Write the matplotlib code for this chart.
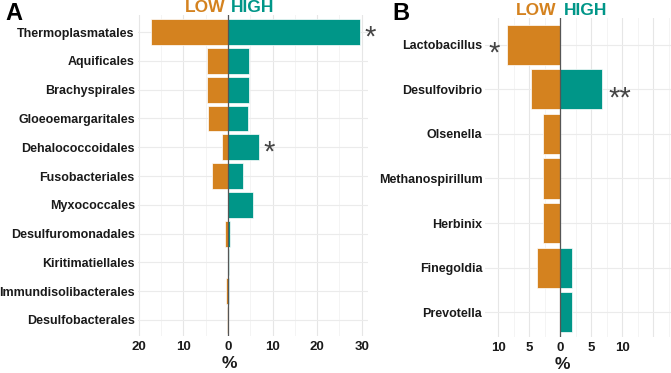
import matplotlib.pyplot as plt
import matplotlib.transforms as mtransforms
import numpy as np

plt.rcParams['font.family'] = ['Liberation Sans', 'DejaVu Sans']

# --- data ---
orders = ['Thermoplasmatales', 'Aquificales', 'Brachyspirales', 'Gloeoemargaritales',
          'Dehalococcoidales', 'Fusobacteriales', 'Myxococcales', 'Desulfuromonadales',
          'Kiritimatiellales', 'Immundisolibacterales', 'Desulfobacterales']
orders_low = [17.2, 4.8, 4.8, 4.5, 1.4, 3.5, 0.0, 0.7, 0.1, 0.4, 0.15]
orders_high = [29.6, 4.7, 4.7, 4.5, 7.0, 3.4, 5.7, 0.4, 0.3, 0.3, 0.05]
orders_sig = {'Thermoplasmatales': '*', 'Dehalococcoidales': '*'}

genera = ['Lactobacillus', 'Desulfovibrio', 'Olsenella', 'Methanospirillum',
          'Herbinix', 'Finegoldia', 'Prevotella']
genera_low = [8.6, 4.7, 2.8, 2.8, 2.8, 3.7, 0.0]
genera_high = [0.0, 6.7, 0.0, 0.0, 0.0, 1.95, 1.95]
genera_sig = {'Lactobacillus': '*', 'Desulfovibrio': '**'}

LOW_C = '#D4821F'
HIGH_C = '#009688'
TXT = '#1a1a1a'


def panel(ax, names, low, high, xlim, major, minor, ticks):
    y = np.arange(len(names))
    for v in minor:
        ax.axvline(v, color='#f2f2f2', lw=0.6, zorder=0)
    for v in major:
        ax.axvline(v, color='#e6e6e6', lw=0.8, zorder=0)
    for yy in y:
        ax.axhline(yy, color='#ebebeb', lw=0.8, zorder=0)
    ax.barh(y, [-v for v in low], height=0.9, color=LOW_C, edgecolor='white', lw=0.5, zorder=2)
    ax.barh(y, high, height=0.9, color=HIGH_C, edgecolor='white', lw=0.5, zorder=2)
    ax.axvline(0, color='#555555', lw=0.9, zorder=3)
    ax.set_xlim(*xlim)
    ax.set_ylim(len(names) - 0.45, -0.6)
    ax.set_yticks(y)
    ax.set_yticklabels(names, fontsize=9, fontweight='bold', color=TXT)
    ax.set_xticks(ticks)
    ax.set_xticklabels([str(abs(t)) for t in ticks], fontsize=9.5, fontweight='bold', color=TXT)
    ax.tick_params(axis='y', length=0, pad=2)
    ax.tick_params(axis='x', length=0, pad=4)
    for s in ax.spines.values():
        s.set_visible(False)
    zero_frac = (0.3 - xlim[0]) / (xlim[1] - xlim[0])
    ax.set_xlabel('%', fontsize=12.5, fontweight='bold', color=TXT)
    ax.xaxis.set_label_coords(zero_frac, -0.062)
    tr = mtransforms.blended_transform_factory(ax.transData, ax.transAxes)
    ax.text(-0.6, 1.008, 'LOW', color=LOW_C, fontsize=12.5, fontweight='bold',
            ha='right', va='baseline', transform=tr)
    ax.text(0.6, 1.008, 'HIGH', color=HIGH_C, fontsize=12.5, fontweight='bold',
            ha='left', va='baseline', transform=tr)


fig = plt.figure(figsize=(6.71, 3.73), dpi=100)
axA = fig.add_axes([0.205, 0.100, 0.344, 0.860])
axB = fig.add_axes([0.723, 0.097, 0.277, 0.855])

panel(axA, orders, orders_low, orders_high, (-20.3, 31.5),
      np.arange(-20, 31, 10), np.arange(-15, 31, 10), [-20, -10, 0, 10, 20, 30])
panel(axB, genera, genera_low, genera_high, (-12.1, 17.9),
      np.arange(-10, 16, 5), np.arange(-12.5, 18, 5), [-10, -5, 0, 5, 10])

# significance marks
for name, mark in orders_sig.items():
    i = orders.index(name)
    x = orders_high[i] + 2.3
    axA.text(x, i + 0.2, mark, fontsize=21, color='#444444', ha='center', va='center',
             clip_on=False)
for name, mark in genera_sig.items():
    i = genera.index(name)
    if name == 'Lactobacillus':
        x = -10.6
    else:
        x = genera_high[i] + 3.0
    axB.text(x, i + 0.2, mark, fontsize=21, color='#444444', ha='center', va='center',
             clip_on=False)

fig.text(0.008, 0.995, 'A', fontsize=17, fontweight='bold', ha='left', va='top')
fig.text(0.585, 0.995, 'B', fontsize=17, fontweight='bold', ha='left', va='top')

plt.savefig('out.png', dpi=100)
